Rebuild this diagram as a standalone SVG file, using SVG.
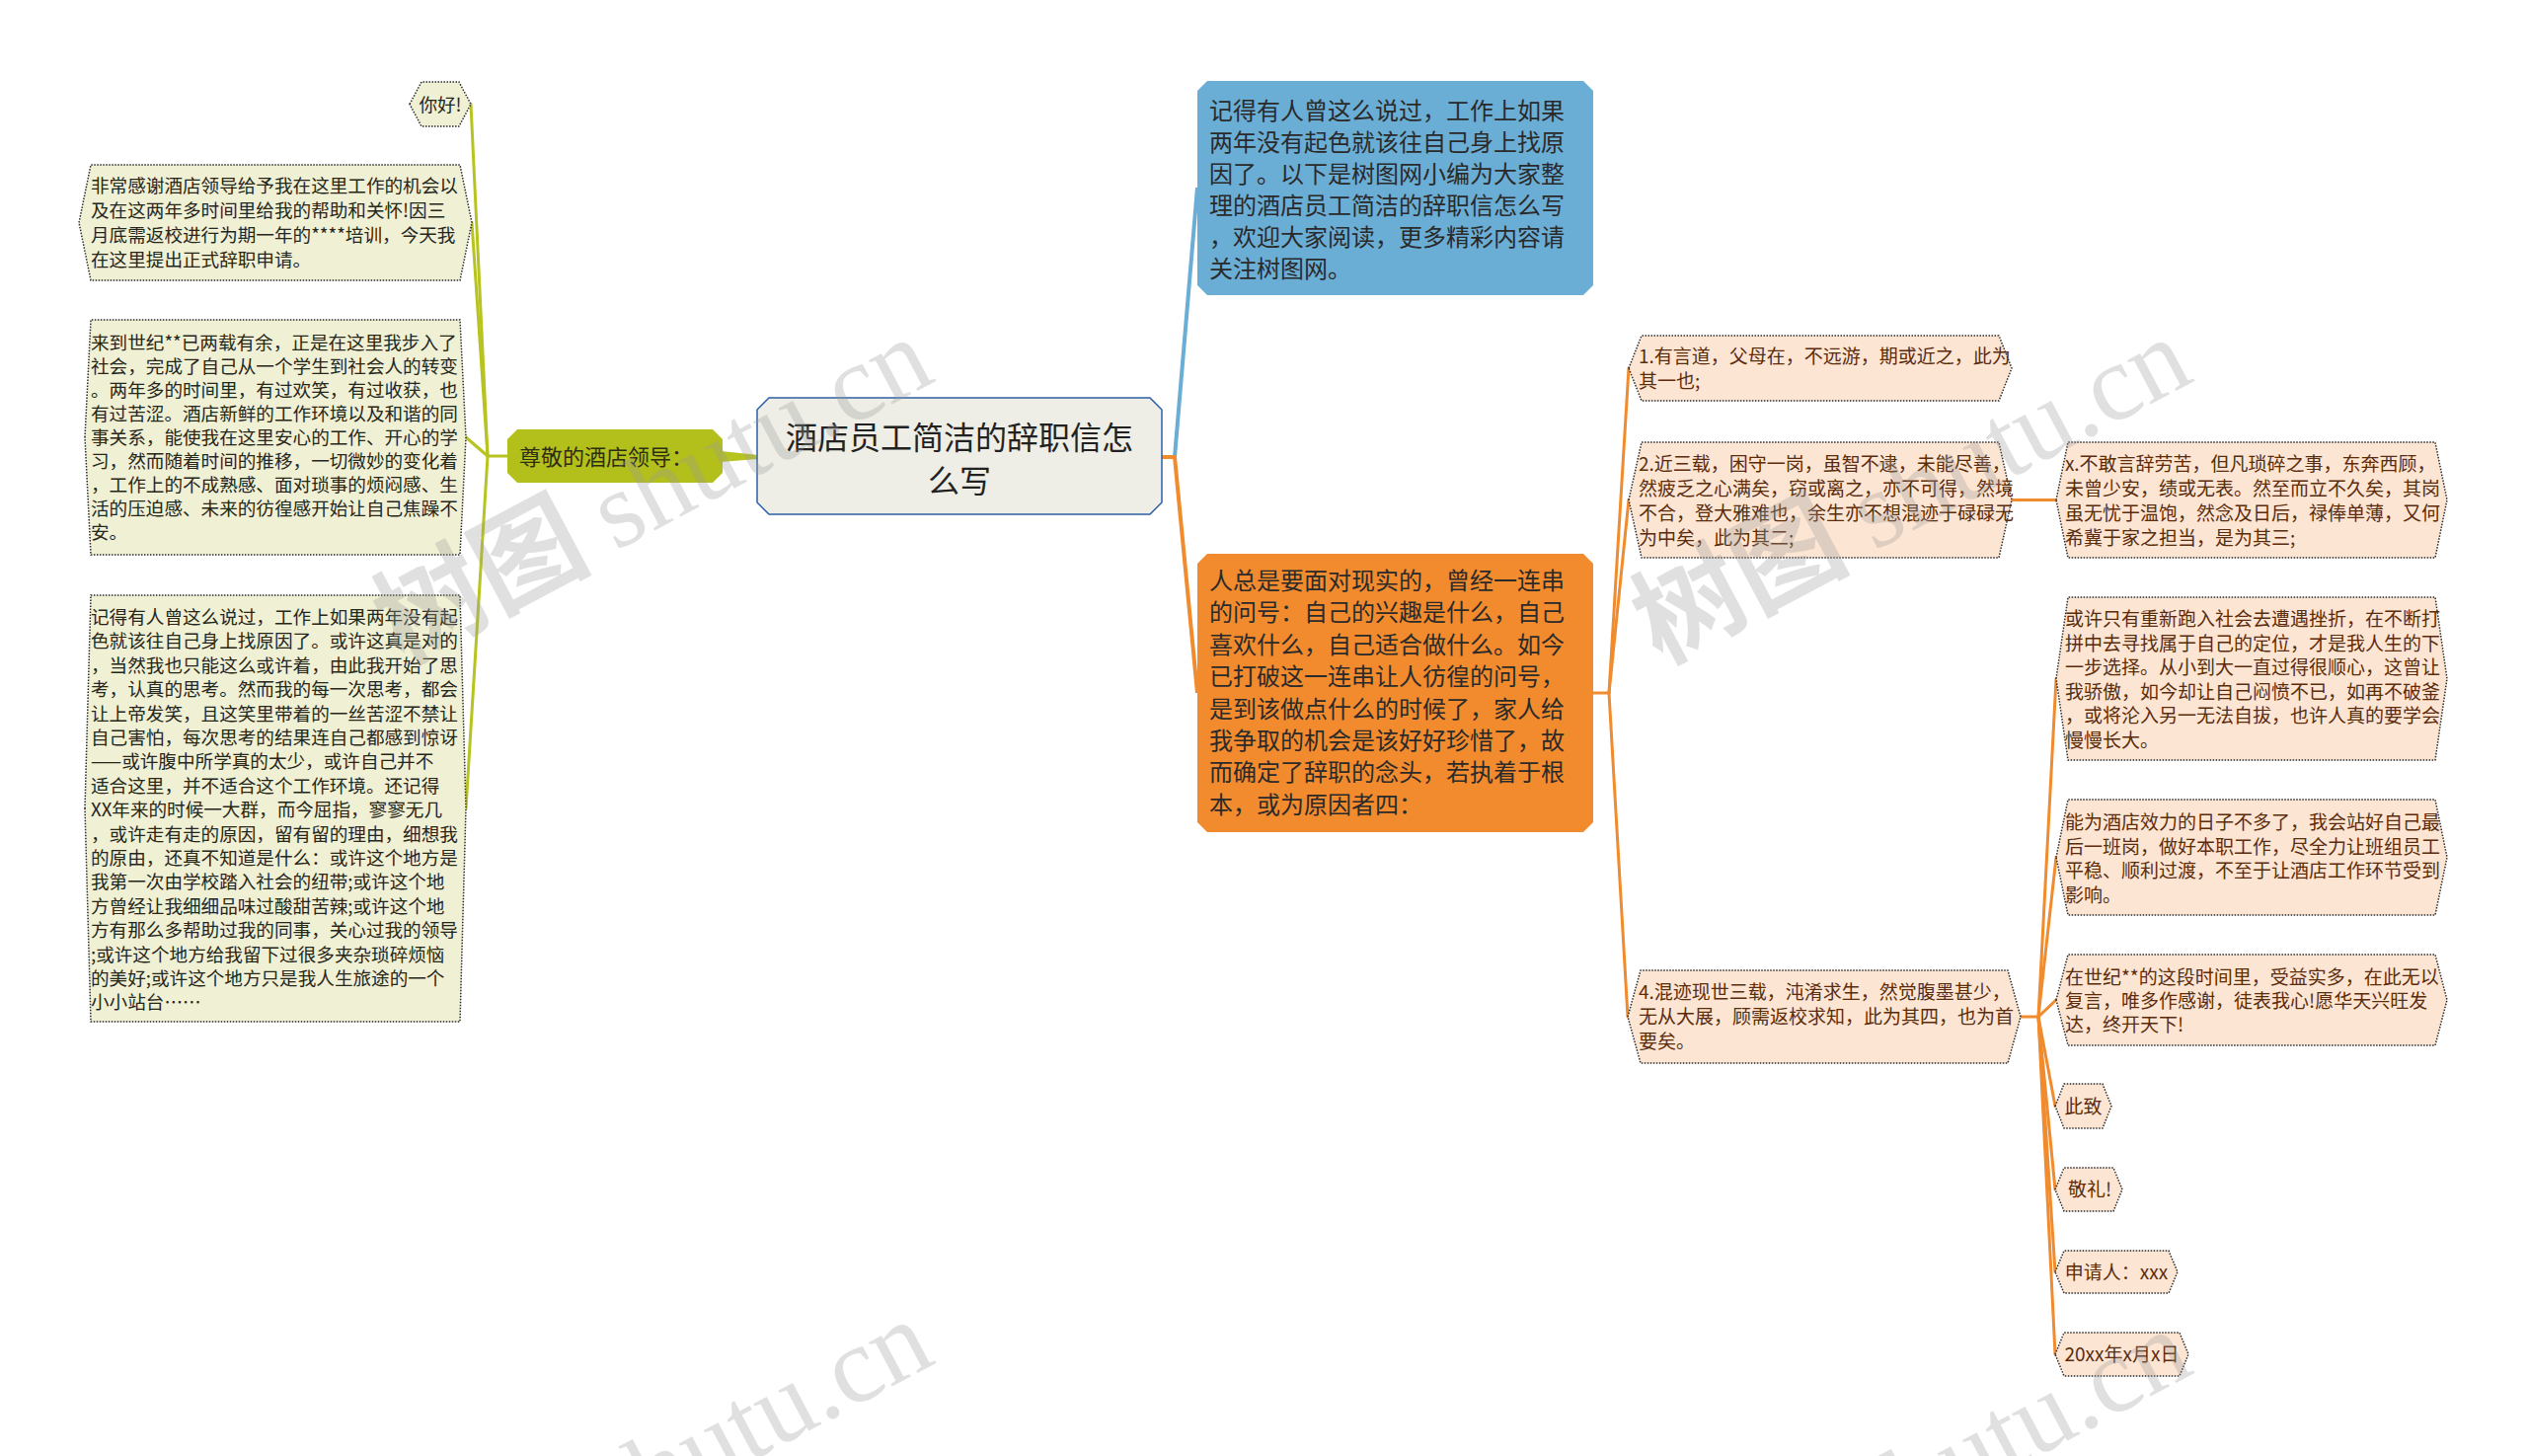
<svg xmlns="http://www.w3.org/2000/svg" width="2560" height="1475" viewBox="0 0 2560 1475">
<style>
text{font-family:"Noto Sans CJK SC","Noto Sans",sans-serif;}
.bg{fill:#ffffff;}
.lt{fill:#f0f0d4;stroke:#2a2a2a;stroke-width:1.5;stroke-dasharray:1.5 1.5;}
.pk{fill:#fde5d3;stroke:#2a2a2a;stroke-width:1.5;stroke-dasharray:1.5 1.5;}
.tl{font-size:18.6px;fill:#26261a;}
.tp{font-size:19px;fill:#5a2c0c;}
.tb{font-size:24px;fill:#2a2a2a;}
.ol{stroke:#b7c420;stroke-width:3;fill:none;stroke-linecap:round;}
.or{stroke:#f08b2e;stroke-width:3;fill:none;stroke-linecap:round;}
.wm{fill:#9a9a9a;opacity:0.3;font-size:110px;}
</style>
<rect class="bg" x="0" y="0" width="2560" height="1475"/>

<g id="connectors">
  <polygon points="730,457 768,461 768,465 730,468" fill="#b7c420"/>
  <path class="ol" d="M514,462 L494,462"/>
  <path class="ol" d="M494,462 L477,105.5"/>
  <path class="ol" d="M494,462 L478,225.5"/>
  <path class="ol" d="M494,462 L472,443"/>
  <path class="ol" d="M494,462 L472,819"/>
  <path d="M1177,463 L1190,463 L1213,190" stroke="#6aaed6" stroke-width="4" fill="none" stroke-linejoin="round"/>
  <path d="M1177,463 L1190,463 L1213,702" stroke="#f08b2e" stroke-width="4" fill="none" stroke-linejoin="round"/>
  <path class="or" d="M1614,702 L1630,702"/>
  <path class="or" d="M1630,702 L1650,373"/>
  <path class="or" d="M1630,702 L1650,506.5"/>
  <path class="or" d="M1630,702 L1649,1030"/>
  <path class="or" d="M2038,506.5 L2083,506.5"/>
  <path class="or" d="M2047,1030 L2065,1030"/>
  <path class="or" d="M2065,1030 L2083,687.5"/>
  <path class="or" d="M2065,1030 L2083,868.5"/>
  <path class="or" d="M2065,1030 L2083,1013"/>
  <path class="or" d="M2065,1030 L2082,1120.5"/>
  <path class="or" d="M2065,1030 L2082,1205"/>
  <path class="or" d="M2065,1030 L2082,1288.5"/>
  <path class="or" d="M2065,1030 L2082,1372"/>
</g>

<g id="root">
  <polygon points="779,403 1165,403 1177,415 1177,509 1165,521 779,521 767,509 767,415" fill="#eeeee6" stroke="#2d5fa6" stroke-width="1.5"/>
  <text x="972" y="455" font-size="32" fill="#222" text-anchor="middle">酒店员工简洁的辞职信怎</text>
  <text x="972" y="499" font-size="32" fill="#222" text-anchor="middle">么写</text>
</g>

<g id="n_greeting">
  <polygon points="524,435 722,435 732,445 732,479 722,489 524,489 514,479 514,445" fill="#b3c01c"/>
  <text x="526" y="471" font-size="22" fill="#2e2e14">尊敬的酒店领导：</text>
</g>

<g id="n_nihao">
  <polygon points="415,105.5 427,83 465,83 477,105.5 465,128 427,128" class="lt"/>
  <text x="446" y="112.5" class="tl" text-anchor="middle">你好!</text>
</g>

<g id="n_left1">
  <polygon points="80,225.5 92,167 466,167 478,225.5 466,284 92,284" class="lt"/>
  <text class="tl">
    <tspan x="92" y="195">非常感谢酒店领导给予我在这里工作的机会以</tspan>
    <tspan x="92" y="220">及在这两年多时间里给我的帮助和关怀!因三</tspan>
    <tspan x="92" y="245">月底需返校进行为期一年的****培训，今天我</tspan>
    <tspan x="92" y="270">在这里提出正式辞职申请。</tspan>
  </text>
</g>

<g id="n_left2">
  <polygon points="86,443 92,324 466,324 472,443 466,562 92,562" class="lt"/>
  <text class="tl">
    <tspan x="92" y="354">来到世纪**已两载有余，正是在这里我步入了</tspan>
    <tspan x="92" y="378">社会，完成了自己从一个学生到社会人的转变</tspan>
    <tspan x="92" y="402">。两年多的时间里，有过欢笑，有过收获，也</tspan>
    <tspan x="92" y="426">有过苦涩。酒店新鲜的工作环境以及和谐的同</tspan>
    <tspan x="92" y="450">事关系，能使我在这里安心的工作、开心的学</tspan>
    <tspan x="92" y="474">习，然而随着时间的推移，一切微妙的变化着</tspan>
    <tspan x="92" y="498">，工作上的不成熟感、面对琐事的烦闷感、生</tspan>
    <tspan x="92" y="522">活的压迫感、未来的彷徨感开始让自己焦躁不</tspan>
    <tspan x="92" y="546">安。</tspan>
  </text>
</g>

<g id="n_left3">
  <polygon points="86,819 92,603 466,603 472,819 466,1035 92,1035" class="lt"/>
  <text class="tl">
    <tspan x="92" y="632">记得有人曾这么说过，工作上如果两年没有起</tspan>
    <tspan x="92" y="656.4">色就该往自己身上找原因了。或许这真是对的</tspan>
    <tspan x="92" y="680.8">，当然我也只能这么或许着，由此我开始了思</tspan>
    <tspan x="92" y="705.2">考，认真的思考。然而我的每一次思考，都会</tspan>
    <tspan x="92" y="729.6">让上帝发笑，且这笑里带着的一丝苦涩不禁让</tspan>
    <tspan x="92" y="754">自己害怕，每次思考的结果连自己都感到惊讶</tspan>
    <tspan x="92" y="778.4">——或许腹中所学真的太少，或许自己并不</tspan>
    <tspan x="92" y="802.8">适合这里，并不适合这个工作环境。还记得</tspan>
    <tspan x="92" y="827.2">XX年来的时候一大群，而今屈指，寥寥无几</tspan>
    <tspan x="92" y="851.6">，或许走有走的原因，留有留的理由，细想我</tspan>
    <tspan x="92" y="876">的原由，还真不知道是什么：或许这个地方是</tspan>
    <tspan x="92" y="900.4">我第一次由学校踏入社会的纽带;或许这个地</tspan>
    <tspan x="92" y="924.8">方曾经让我细细品味过酸甜苦辣;或许这个地</tspan>
    <tspan x="92" y="949.2">方有那么多帮助过我的同事，关心过我的领导</tspan>
    <tspan x="92" y="973.6">;或许这个地方给我留下过很多夹杂琐碎烦恼</tspan>
    <tspan x="92" y="998">的美好;或许这个地方只是我人生旅途的一个</tspan>
    <tspan x="92" y="1022.4">小小站台……</tspan>
  </text>
</g>

<g id="n_blue">
  <polygon points="1223,82 1604,82 1614,92 1614,289 1604,299 1223,299 1213,289 1213,92" fill="#6aaed6"/>
  <text class="tb">
    <tspan x="1225" y="121">记得有人曾这么说过，工作上如果</tspan>
    <tspan x="1225" y="153">两年没有起色就该往自己身上找原</tspan>
    <tspan x="1225" y="185">因了。以下是树图网小编为大家整</tspan>
    <tspan x="1225" y="217">理的酒店员工简洁的辞职信怎么写</tspan>
    <tspan x="1225" y="249">，欢迎大家阅读，更多精彩内容请</tspan>
    <tspan x="1225" y="281">关注树图网。</tspan>
  </text>
</g>

<g id="n_orange">
  <polygon points="1223,561 1604,561 1614,571 1614,833 1604,843 1223,843 1213,833 1213,571" fill="#f28a2e"/>
  <text class="tb">
    <tspan x="1225" y="597">人总是要面对现实的，曾经一连串</tspan>
    <tspan x="1225" y="629.4">的问号：自己的兴趣是什么，自己</tspan>
    <tspan x="1225" y="661.8">喜欢什么，自己适合做什么。如今</tspan>
    <tspan x="1225" y="694.2">已打破这一连串让人彷徨的问号，</tspan>
    <tspan x="1225" y="726.6">是到该做点什么的时候了，家人给</tspan>
    <tspan x="1225" y="759">我争取的机会是该好好珍惜了，故</tspan>
    <tspan x="1225" y="791.4">而确定了辞职的念头，若执着于根</tspan>
    <tspan x="1225" y="823.8">本，或为原因者四：</tspan>
  </text>
</g>

<g id="n_r1">
  <polygon points="1650,373 1663,340 2025,340 2038,373 2025,406 1663,406" class="pk"/>
  <text class="tp">
    <tspan x="1660" y="368">1.有言道，父母在，不远游，期或近之，此为</tspan>
    <tspan x="1660" y="393">其一也;</tspan>
  </text>
</g>

<g id="n_r2">
  <polygon points="1650,506.5 1663,448 2025,448 2038,506.5 2025,565 1663,565" class="pk"/>
  <text class="tp">
    <tspan x="1660" y="477">2.近三载，困守一岗，虽智不逮，未能尽善，</tspan>
    <tspan x="1660" y="502">然疲乏之心满矣，窃或离之，亦不可得，然境</tspan>
    <tspan x="1660" y="527">不合，登大雅难也，余生亦不想混迹于碌碌无</tspan>
    <tspan x="1660" y="552">为中矣，此为其二;</tspan>
  </text>
</g>

<g id="n_r4">
  <polygon points="1649,1030 1662,983 2034,983 2047,1030 2034,1077 1662,1077" class="pk"/>
  <text class="tp">
    <tspan x="1660" y="1012">4.混迹现世三载，沌淆求生，然觉腹墨甚少，</tspan>
    <tspan x="1660" y="1037">无从大展，顾需返校求知，此为其四，也为首</tspan>
    <tspan x="1660" y="1062">要矣。</tspan>
  </text>
</g>

<g id="n_x3">
  <polygon points="2083,506.5 2095,448 2467,448 2479,506.5 2467,565 2095,565" class="pk"/>
  <text class="tp">
    <tspan x="2092" y="477">x.不敢言辞劳苦，但凡琐碎之事，东奔西顾，</tspan>
    <tspan x="2092" y="502">未曾少安，绩或无表。然至而立不久矣，其岗</tspan>
    <tspan x="2092" y="527">虽无忧于温饱，然念及日后，禄俸单薄，又何</tspan>
    <tspan x="2092" y="552">希冀于家之担当，是为其三;</tspan>
  </text>
</g>

<g id="n_h1">
  <polygon points="2083,687.5 2095,605 2467,605 2479,687.5 2467,770 2095,770" class="pk"/>
  <text class="tp">
    <tspan x="2092" y="634">或许只有重新跑入社会去遭遇挫折，在不断打</tspan>
    <tspan x="2092" y="658.5">拼中去寻找属于自己的定位，才是我人生的下</tspan>
    <tspan x="2092" y="683">一步选择。从小到大一直过得很顺心，这曾让</tspan>
    <tspan x="2092" y="707.5">我骄傲，如今却让自己闷愤不已，如再不破釜</tspan>
    <tspan x="2092" y="732">，或将沦入另一无法自拔，也许人真的要学会</tspan>
    <tspan x="2092" y="756.5">慢慢长大。</tspan>
  </text>
</g>

<g id="n_h2">
  <polygon points="2083,868.5 2095,810 2467,810 2479,868.5 2467,927 2095,927" class="pk"/>
  <text class="tp">
    <tspan x="2092" y="840">能为酒店效力的日子不多了，我会站好自己最</tspan>
    <tspan x="2092" y="864.5">后一班岗，做好本职工作，尽全力让班组员工</tspan>
    <tspan x="2092" y="889">平稳、顺利过渡，不至于让酒店工作环节受到</tspan>
    <tspan x="2092" y="913.5">影响。</tspan>
  </text>
</g>

<g id="n_h3">
  <polygon points="2083,1013 2095,967 2467,967 2479,1013 2467,1059 2095,1059" class="pk"/>
  <text class="tp">
    <tspan x="2092" y="996.5">在世纪**的这段时间里，受益实多，在此无以</tspan>
    <tspan x="2092" y="1020.5">复言，唯多作感谢，徒表我心!愿华天兴旺发</tspan>
    <tspan x="2092" y="1044.5">达，终开天下!</tspan>
  </text>
</g>

<g id="n_s1">
  <polygon points="2082,1120.5 2091,1098 2130,1098 2139,1120.5 2130,1143 2091,1143" class="pk"/>
  <text class="tp" x="2110.5" y="1127.5" text-anchor="middle">此致</text>
</g>
<g id="n_s2">
  <polygon points="2082,1205 2091,1183 2141,1183 2150,1205 2141,1227 2091,1227" class="pk"/>
  <text class="tp" x="2117" y="1212" text-anchor="middle">敬礼!</text>
</g>
<g id="n_s3">
  <polygon points="2082,1288.5 2091,1267 2197,1267 2206,1288.5 2197,1310 2091,1310" class="pk"/>
  <text class="tp" x="2144" y="1295.5" text-anchor="middle">申请人：xxx</text>
</g>
<g id="n_s4">
  <polygon points="2082,1372 2091,1350 2208,1350 2217,1372 2208,1394 2091,1394" class="pk"/>
  <text class="tp" x="2149.5" y="1379" text-anchor="middle">20xx年x月x日</text>
</g>

<g id="watermarks">
  <text class="wm" x="950" y="385" text-anchor="end" transform="rotate(-28 950 385)"><tspan font-weight="bold">树图 </tspan><tspan font-family="Liberation Serif">shutu.cn</tspan></text>
  <text class="wm" x="2225" y="385" text-anchor="end" transform="rotate(-28 2225 385)"><tspan font-weight="bold">树图 </tspan><tspan font-family="Liberation Serif">shutu.cn</tspan></text>
  <text class="wm" x="950" y="1380" text-anchor="end" transform="rotate(-28 950 1380)"><tspan font-weight="bold">树图 </tspan><tspan font-family="Liberation Serif">shutu.cn</tspan></text>
  <text class="wm" x="2225" y="1390" text-anchor="end" transform="rotate(-28 2225 1390)"><tspan font-weight="bold">树图 </tspan><tspan font-family="Liberation Serif">shutu.cn</tspan></text>
</g>
</svg>
